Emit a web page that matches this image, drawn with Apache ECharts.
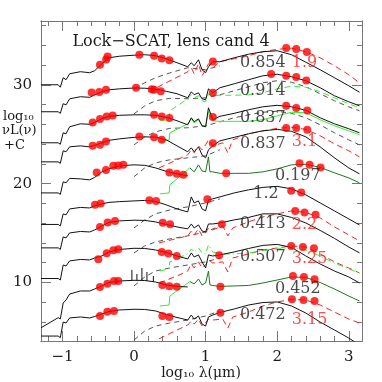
<!DOCTYPE html>
<html>
<head>
<meta charset="utf-8">
<title>Lock-SCAT, lens cand 4</title>
<script src="https://cdn.jsdelivr.net/npm/echarts@6/dist/echarts.min.js"></script>
<style>
  html, body { margin: 0; padding: 0; background: #fff; }
  #chart { width: 382px; height: 382px; }
</style>
</head>
<body>
<div id="chart"></div>
<script>
// log10 wavelength (um) grid of the black total-model curves
const lam = [-1.30, -1.06, -1.03, -0.99, -0.95, -0.90, -0.75, -0.62, -0.55, -0.45, -0.35, -0.20,
  0.00, 0.15, 0.30, 0.45, 0.60, 0.75, 0.80, 0.84, 0.90, 0.95, 1.00, 1.04, 1.10, 1.20,
  1.40, 1.60, 1.80, 2.00, 2.20, 2.40, 2.60, 2.80, 3.00, 3.15];

// black curves, log10 nuL(nu) + C, top to bottom
const sed1 = [30.00, 30.00, 29.75, 30.71, 30.51, 31.11, 31.32, 31.22, 31.42, 32.13, 32.73, 32.89, 32.99, 33.04, 32.94, 32.63, 32.23, 31.82, 32.23, 31.92, 32.53, 31.52, 31.22, 31.82, 32.33, 32.33, 32.73, 33.09, 33.34, 33.44, 33.04, 32.28, 31.52, 30.71, 29.90, 29.24];
const sed2 = [27.27, 27.27, 27.11, 28.08, 27.97, 28.58, 28.79, 28.73, 28.99, 29.29, 29.49, 29.59, 29.67, 29.65, 29.56, 29.34, 29.09, 28.68, 29.29, 28.99, 29.19, 28.58, 28.48, 29.59, 29.19, 29.70, 30.10, 30.51, 30.91, 31.06, 30.81, 30.41, 29.70, 28.89, 28.28, 27.87];
const sed3 = [24.13, 24.13, 23.98, 25.14, 25.04, 25.75, 26.05, 26.00, 26.20, 26.56, 26.81, 26.91, 26.96, 26.96, 26.91, 26.71, 26.36, 25.95, 26.66, 26.25, 26.56, 25.85, 25.75, 27.67, 26.46, 26.81, 27.11, 27.47, 27.77, 27.92, 27.77, 27.42, 26.66, 26.05, 25.55, 25.14];
const sed4 = [22.20, 22.20, 22.05, 23.32, 23.22, 23.72, 23.82, 23.72, 23.87, 24.13, 24.38, 24.53, 24.68, 24.73, 24.70, 24.43, 23.82, 23.22, 23.62, 23.22, 23.72, 22.91, 22.61, 23.42, 23.82, 24.33, 24.68, 25.04, 25.34, 25.49, 25.29, 24.73, 23.72, 22.61, 21.59, 20.99];
const sed5 = [19.06, 19.06, 18.91, 20.18, 20.08, 20.53, 20.48, 20.38, 20.63, 21.19, 21.49, 21.80, 21.90, 21.85, 21.59, 21.24, 20.99, 20.79];
const sed6 = [15.87, 15.87, 15.72, 16.94, 16.84, 17.44, 17.59, 17.54, 17.75, 17.95, 18.10, 18.18, 18.25, 18.30, 18.20, 17.85, 17.44, 17.14, 18.66, 18.05, 18.25, 17.44, 17.24, 18.35, 18.46, 18.66, 19.06, 19.37, 19.62, 19.72, 19.47, 18.86, 18.05, 17.24, 16.43, 15.82];
const sed7 = [13.50, 13.50, 13.35, 14.61, 14.51, 15.01, 15.16, 15.11, 15.32, 15.72, 16.08, 16.23, 16.30, 16.28, 16.13, 15.87, 15.62, 15.42, 15.92, 15.52, 15.82, 15.21, 15.11, 15.92, 15.92, 16.02, 16.33, 16.58, 16.94, 16.94, 16.58, 16.02, 15.27, 14.46, 13.59, 12.99];
const sed8 = [10.40, 10.40, 10.25, 11.77, 11.67, 12.18, 12.33, 12.28, 12.48, 12.68, 13.09, 13.34, 13.46, 13.44, 13.29, 13.04, 12.68, 12.38, 12.99, 12.58, 12.79, 12.08, 11.47, 12.79, 12.68, 12.79, 13.09, 13.44, 13.75, 13.85, 13.55, 12.68, 11.87, 11.16, 10.56, 9.95];
const sed9 = [5.42, 6.44, 6.31, 7.92, 8.23, 8.83, 9.14, 9.14, 9.34, 9.65, 10.00, 10.15, 10.22, 10.20, 10.05, 9.75, 9.60, 9.55];
const sed10 = [4.58, 4.58, 4.43, 6.00, 5.90, 6.41, 6.51, 6.41, 6.56, 6.81, 7.07, 7.22, 7.29, 7.27, 7.12, 6.76, 6.46, 6.20, 6.71, 6.30, 6.61, 5.80, 5.59, 6.51, 6.71, 6.96, 7.32, 7.72, 7.97, 8.03, 7.62, 6.91, 6.00, 5.19, 4.38, 3.67];

// dusty torus (green)
const lamTorus = [0.36, 0.49, 0.50, 0.75, 0.80, 0.84, 0.90, 0.95, 1.00, 1.04, 1.10, 1.20, 1.40, 1.60, 1.80, 2.00, 2.20, 2.40, 2.60, 2.80, 3.00, 3.15];
const torus2 = [26.35, 26.46, 27.37, 28.58, 28.99, 28.68, 28.89, 28.38, 28.28, 29.09, 28.89, 28.94, 28.94, 28.99, 29.19, 29.59, 29.85, 29.75, 29.29, 28.68, 28.08, 27.67];
const torus3 = [24.23, 24.43, 25.14, 26.05, 26.56, 26.15, 26.46, 25.85, 25.75, 27.27, 26.35, 26.30, 26.30, 26.30, 26.46, 26.86, 27.22, 27.17, 26.46, 25.85, 25.34, 24.94];
const torus8 = [11.16, 11.37, 12.08, 12.89, 13.39, 13.09, 13.49, 12.99, 12.89, 13.80, 13.09, 12.89, 12.89, 12.99, 13.19, 13.39, 13.49, 13.29, 12.68, 11.97, 11.37, 10.96];
const lamRise = [0.36, 0.49, 0.50, 0.78];
const rise5 = [18.96, 19.06, 19.87, 21.59];
const rise9 = [7.62, 7.72, 8.63, 10.10];

// dark green total curves beyond the optical
const lamWarm = [0.78, 0.84, 0.90, 0.95, 1.00, 1.02, 1.04, 1.06, 1.10, 1.20, 1.40, 1.60, 1.80, 2.00, 2.20, 2.40, 2.60, 2.80, 3.00, 3.15];
const warm5 = [21.59, 21.19, 21.90, 21.29, 21.19, 21.19, 22.71, 21.19, 21.19, 21.04, 21.04, 21.04, 21.19, 21.49, 21.90, 21.95, 21.65, 21.09, 20.58, 20.08];
const warm9 = [10.10, 9.85, 10.35, 9.75, 9.95, 9.75, 11.16, 9.75, 9.70, 9.60, 9.65, 9.70, 9.95, 10.25, 10.56, 10.51, 10.00, 9.34, 8.63, 8.13];

// red dashed alternative-redshift fits
const lamAlt1 = [0.20, 0.45, 0.75, 0.80, 0.84, 0.90, 0.95, 1.00, 1.04, 1.10, 1.20, 1.40, 1.60, 1.80, 2.00, 2.20, 2.40, 2.60, 2.80, 3.00, 3.15];
const alt1 = [29.29, 30.20, 31.32, 31.72, 31.11, 32.13, 30.91, 31.52, 32.13, 31.72, 32.33, 32.63, 32.94, 33.34, 33.59, 33.70, 33.34, 32.73, 31.92, 31.01, 30.20];
const lamAlt = [0.35, 0.60, 0.75, 0.80, 0.84, 0.90, 0.95, 1.00, 1.04, 1.10, 1.24, 1.31, 1.38, 1.60, 1.80, 2.00, 2.20, 2.40, 2.60, 2.80, 3.00, 3.15];
const alt4 = [21.59, 22.41, 22.91, 23.42, 23.12, 23.82, 23.42, 23.92, 24.43, 23.82, 24.13, 23.12, 24.43, 25.04, 25.34, 25.59, 25.70, 25.49, 24.84, 24.03, 23.32, 22.71];
const alt7 = [14.00, 14.45, 14.71, 15.21, 14.81, 15.42, 14.71, 15.01, 15.52, 15.32, 15.72, 14.71, 15.52, 16.13, 16.63, 16.94, 17.24, 17.09, 16.53, 15.62, 14.81, 14.20];
const alt8 = [9.95, 10.66, 11.16, 11.87, 11.47, 12.08, 11.47, 11.77, 12.28, 11.97, 12.08, 11.06, 12.48, 12.89, 13.29, 13.49, 13.70, 13.59, 12.89, 12.08, 11.47, 10.96];
const alt10 = [4.30, 5.19, 5.70, 6.10, 5.80, 6.30, 5.59, 5.90, 6.30, 6.20, 6.30, 5.39, 6.51, 7.01, 7.62, 8.03, 8.28, 8.23, 7.72, 7.01, 6.30, 5.90];

// grey dashed cirrus components
const lamCirrus = [0.00, 0.15, 0.30, 0.50, 0.75, 1.00, 1.20, 1.40, 1.60, 1.80, 2.00, 2.20, 2.40, 2.60, 2.80, 3.00, 3.15];
const cirrus1 = [29.60, 30.20, 30.71, 31.20, 31.72, 31.52, 31.92];
const cirrus2 = [27.06, 27.87, 28.38, 28.63, 28.58, 28.68, 28.99, 29.39, 29.80, 30.20, 30.41, 30.25, 29.80, 29.09, 28.38, 27.77, 27.37];
const cirrus3 = [23.92, 24.73, 25.24, 25.59, 25.65, 25.85, 26.25, 26.66, 26.96, 27.22, 27.32, 27.11, 26.66, 25.95, 25.14, 24.43, 23.92];
const cirrus4 = [20.70, 21.59, 22.10, 22.41, 22.61, 22.81, 23.42];
const cirrus6 = [15.52, 16.33, 16.94, 17.34, 17.65, 18.05, 18.46];
const cirrus7 = [12.99, 13.70, 14.10, 14.41, 14.71, 15.11, 15.72];
const cirrus8 = [9.65, 10.56, 11.16, 11.47, 11.77, 12.08, 12.48];
const cirrus10 = [4.18, 5.09, 5.59, 5.90, 6.20, 6.61, 7.12];

// emission lines on the 0.452 template
const spikeX9 = [-0.03, 0.04, 0.11, 0.18, 0.27];
const spikeBase9 = [10.22, 10.21, 10.20, 10.14, 10.07];
const spikeTop9 = [11.27, 10.86, 11.47, 11.06, 10.66];

// photometry (red points)
const phot1 = [[-0.476, 32.03], [-0.39, 32.55], [-0.37, 32.85], [0.074, 33.04], [0.280, 32.94], [0.387, 32.66], [0.494, 32.48], [1.101, 32.36], [2.126, 33.72], [2.266, 33.62], [2.415, 33.31]];
const phot2 = [[-0.592, 29.22], [-0.485, 29.26], [-0.392, 29.49], [0.028, 29.70], [0.248, 29.54], [0.28, 29.50], [0.373, 29.34], [1.101, 29.19], [1.916, 31.10], [2.126, 30.91], [2.266, 30.78], [2.406, 30.44]];
const phot3 = [[-0.578, 26.18], [-0.476, 26.53], [-0.382, 26.79], [-0.298, 26.89], [0.280, 26.96], [0.387, 26.79], [0.494, 26.63], [1.101, 26.73], [2.126, 27.87], [2.266, 27.64], [2.420, 27.40]];
const phot4 = [[-0.578, 23.82], [-0.476, 23.92], [-0.392, 24.26], [0.074, 24.77], [0.280, 24.70], [0.387, 24.43], [1.101, 24.08], [2.126, 25.62], [2.266, 25.62], [2.420, 25.44]];
const phot5 = [[-0.522, 21.12], [-0.392, 21.39], [-0.290, 21.80], [-0.220, 21.83], [-0.150, 21.90], [0.494, 21.12], [0.597, 20.99], [0.690, 20.89], [1.287, 21.06], [2.312, 22.07], [2.452, 21.90], [2.606, 21.63]];
const phot6 = [[-0.545, 17.85], [-0.466, 17.98], [0.214, 18.32], [0.308, 18.25], [1.025, 18.42], [2.196, 19.27], [2.336, 19.09]];
const phot7 = [[-0.476, 15.62], [-0.368, 16.06], [-0.266, 16.23], [0.401, 16.03], [0.503, 15.89], [1.227, 15.89], [2.252, 17.24], [2.382, 17.07], [2.536, 16.84]];
const phot8 = [[-0.499, 12.35], [-0.382, 12.96], [-0.290, 13.26], [-0.220, 13.36], [0.387, 13.09], [0.480, 12.92], [0.597, 12.68], [1.189, 12.75], [2.196, 13.70], [2.359, 13.59], [2.513, 13.46]];
const phot9 = [[-0.476, 9.55], [-0.373, 9.88], [-0.280, 10.15], [-0.220, 10.15], [0.396, 9.75], [0.494, 9.62], [0.597, 9.58], [1.207, 9.58], [2.220, 10.66], [2.373, 10.56], [2.522, 10.32]];
const phot10 = [[-0.476, 6.61], [-0.373, 7.04], [-0.280, 7.11], [0.396, 6.61], [0.494, 6.51], [1.207, 6.94], [2.206, 8.30], [2.368, 8.23], [2.522, 8.13]];

// redshift labels: best fit (black) and alternative (red)
const zText = ['0.854', '0.914', '0.837', '0.837', '0.197', '1.2', '0.413', '0.507', '0.452', '0.472'];
const zX = [2.126, 2.126, 2.126, 2.126, 2.615, 2.028, 2.126, 2.126, 2.615, 2.126];
const zY = [32.20, 29.35, 26.70, 23.98, 20.79, 18.98, 15.96, 12.62, 9.40, 6.74];
const zAltText = ['1.9', '3.1', '2.2', '3.25', '3.15'];
const zAltX = [2.196, 2.196, 2.196, 2.196, 2.196];
const zAltY = [32.20, 24.20, 15.85, 12.42, 6.24];

// axes
const xMajor = [-1, 0, 1, 2, 3];
const xMinor = [-1.2, -0.8, -0.6, -0.4, -0.2, 0.2, 0.4, 0.6, 0.8, 1.2, 1.4, 1.6, 1.8, 2.2, 2.4, 2.6, 2.8];
const yMajor = [10, 20, 30];
const yMinor = [6, 8, 12, 14, 16, 18, 22, 24, 26, 28, 32, 34, 36];

const FONT = '"DejaVu Serif", "Liberation Serif", serif';
const BLACK = '#111';
const TEXT = '#1a1a1a';
const GREY = '#555';
const RED = '#ff2020';
const GREEN = '#33ee33';
const DARK_GREEN = '#1f761f';
const FRAME = '#777';

const toPairs = (xs, ys) => ys.map((y, i) => [xs[i], y]);

const lineSeries = (xs, ys, color, dash, z) => ({
  type: 'line',
  data: toPairs(xs, ys),
  symbol: 'none',
  showSymbol: false,
  silent: true,
  animation: false,
  z: z || 2,
  lineStyle: { color: color, width: 1, type: dash || 'solid' },
});

const series = [];

// components first, so the totals sit on top
[cirrus1, cirrus4, cirrus6, cirrus7, cirrus8, cirrus10, cirrus2, cirrus3].forEach((c) => {
  series.push(lineSeries(lamCirrus, c, GREY, [5, 4], 2));
});
series.push(lineSeries(lamAlt1, alt1, RED, [6, 4], 3));
[alt4, alt7, alt8, alt10].forEach((a) => {
  series.push(lineSeries(lamAlt, a, RED, [6, 4], 3));
});
series.push(lineSeries(lamTorus, torus2, GREEN, [6, 4], 3));
series.push(lineSeries(lamTorus, torus3, GREEN, 'solid', 3));
series.push(lineSeries(lamTorus, torus8, GREEN, [6, 3, 1, 3], 3));
series.push(lineSeries(lamRise, rise5, GREEN, 'solid', 3));
series.push(lineSeries(lamRise, rise9, GREEN, 'solid', 3));

// totals
[sed1, sed2, sed3, sed4, sed6, sed7, sed8, sed10].forEach((s) => {
  series.push(lineSeries(lam, s, BLACK, 'solid', 4));
});
series.push(lineSeries(lam.slice(0, sed5.length), sed5, BLACK, 'solid', 4));
series.push(lineSeries(lam.slice(0, sed9.length), sed9, BLACK, 'solid', 4));
series.push(lineSeries(lamWarm, warm5, DARK_GREEN, 'solid', 4));
series.push(lineSeries(lamWarm, warm9, DARK_GREEN, 'solid', 4));

spikeX9.forEach((x, i) => {
  series.push(lineSeries([x, x], [spikeBase9[i], spikeTop9[i]], BLACK, 'solid', 4));
});

// photometry
series.push({
  type: 'scatter',
  data: [].concat(phot1, phot2, phot3, phot4, phot5, phot6, phot7, phot8, phot9, phot10),
  symbol: 'circle',
  symbolSize: 8,
  itemStyle: { color: '#ff0000' },
  silent: true,
  animation: false,
  z: 6,
});

// redshift labels
const labelItems = zText.map((t, i) => ({
  value: [zX[i], zY[i]],
  label: { show: true, formatter: t, position: 'left', distance: 0, color: TEXT },
})).concat(zAltText.map((t, i) => ({
  value: [zAltX[i], zAltY[i]],
  label: { show: true, formatter: t, position: 'right', distance: 0, color: RED },
})));
series.push({
  type: 'scatter',
  data: labelItems,
  symbolSize: 1,
  itemStyle: { color: 'rgba(0,0,0,0)' },
  label: { fontFamily: FONT, fontSize: 16 },
  silent: true,
  animation: false,
  z: 7,
});

const X_MIN = -1.3, X_MAX = 3.185;
const Y_MIN = 4.08, Y_MAX = 36.45;

const axisLine = { show: true, onZero: false, lineStyle: { color: FRAME, width: 1 } };

const makeX = (position, ticks, length, withLabels) => ({
  type: 'value',
  position: position,
  min: X_MIN,
  max: X_MAX,
  axisLine: axisLine,
  splitLine: { show: false },
  axisTick: { show: true, inside: true, length: length, customValues: ticks, lineStyle: { color: FRAME } },
  axisLabel: withLabels
    ? {
        show: true,
        customValues: ticks,
        margin: 9,
        color: TEXT,
        fontFamily: FONT,
        fontSize: 15,
        formatter: (v) => (v < 0 ? '\u2212' + Math.abs(v) : String(v)),
      }
    : { show: false },
});

const makeY = (position, ticks, length, withLabels) => ({
  type: 'value',
  position: position,
  min: Y_MIN,
  max: Y_MAX,
  axisLine: axisLine,
  splitLine: { show: false },
  axisTick: { show: true, inside: true, length: length, customValues: ticks, lineStyle: { color: FRAME } },
  axisLabel: withLabels
    ? { show: true, customValues: ticks, margin: 9, color: TEXT, fontFamily: FONT, fontSize: 15 }
    : { show: false },
});

const option = {
  backgroundColor: '#fff',
  animation: false,
  textStyle: { fontFamily: FONT },
  grid: { left: 41, right: 20, top: 21, bottom: 41, containLabel: false, outerBoundsMode: 'none' },
  xAxis: [
    makeX('bottom', xMajor, 10, true),
    makeX('bottom', xMinor, 5, false),
    makeX('top', xMajor, 10, false),
    makeX('top', xMinor, 5, false),
  ],
  yAxis: [
    makeY('left', yMajor, 10, true),
    makeY('left', yMinor, 5, false),
    makeY('right', yMajor, 10, false),
    makeY('right', yMinor, 5, false),
  ],
  graphic: [
    {
      type: 'text', x: 171, y: 42, silent: true,
      style: { text: 'Lock\u2212SCAT, lens cand 4', font: '16px ' + FONT, fill: TEXT,
        align: 'center', verticalAlign: 'middle', textAlign: 'center', textVerticalAlign: 'middle' },
    },
    {
      type: 'text', x: 201, y: 373, silent: true,
      style: { text: 'log\u2081\u2080 \u03bb(\u03bcm)', font: '14px ' + FONT, fill: TEXT,
        align: 'center', verticalAlign: 'middle', textAlign: 'center', textVerticalAlign: 'middle' },
    },
    {
      type: 'text', x: 3, y: 117, silent: true,
      style: { text: 'log\u2081\u2080', font: '13px ' + FONT, fill: TEXT,
        align: 'left', verticalAlign: 'middle', textAlign: 'left', textVerticalAlign: 'middle' },
    },
    {
      type: 'text', x: 2, y: 131, silent: true,
      style: { text: '\u03bdL(\u03bd)', font: '13px ' + FONT, fill: TEXT,
        align: 'left', verticalAlign: 'middle', textAlign: 'left', textVerticalAlign: 'middle' },
    },
    {
      type: 'text', x: 4, y: 146, silent: true,
      style: { text: '+C', font: '13px ' + FONT, fill: TEXT,
        align: 'left', verticalAlign: 'middle', textAlign: 'left', textVerticalAlign: 'middle' },
    },
  ],
  series: series,
};

const chart = echarts.init(document.getElementById('chart'), null, { renderer: 'canvas' });
chart.setOption(option);
</script>
</body>
</html>
